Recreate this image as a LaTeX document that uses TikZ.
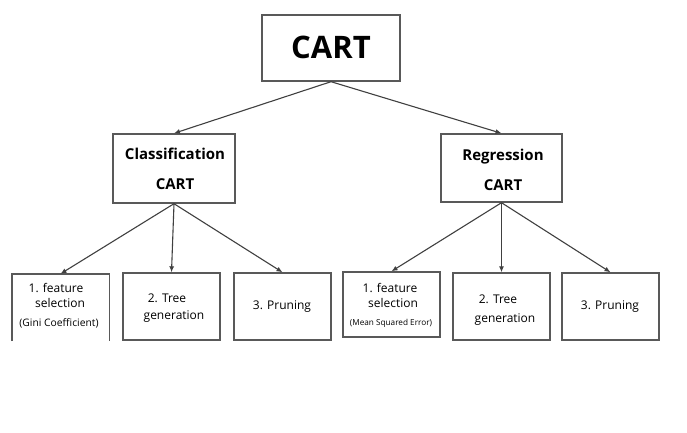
\documentclass[tikz,border=0pt]{standalone}
\usepackage{fontspec}
\setmainfont{Open Sans}
\usetikzlibrary{arrows.meta}
\begin{document}
\begin{tikzpicture}[x=1pt,y=-1pt,
  box/.style={draw=black!65,line width=1.4pt,minimum width=#1,inner sep=0pt,fill=white},
  box/.default=97pt,
  conn/.style={draw=black!75,line width=1.1pt,-{Latex[length=6pt,width=5pt]}},
  txt/.style={inner sep=0pt,text=black},
]
\useasboundingbox (0,0) rectangle (687,433);
% boxes
\node[box=138pt,minimum height=66pt] (cart) at (331,48) {};
\node[box=122pt,minimum height=69pt] (cls) at (174,168.5) {};
\node[box=121pt,minimum height=68pt] (reg) at (501.5,168) {};
\node[draw=none,minimum width=97pt,minimum height=67pt,inner sep=0pt] (c1) at (60.5,307.5) {};
\draw[black!65,line width=1.4pt] (c1.south west) -- (c1.north west) -- (c1.north east) -- (c1.south east);
\node[box,minimum height=67pt] (c2) at (171.5,306.5) {};
\node[box,minimum height=67pt] (c3) at (282.5,306.5) {};
\node[box,minimum height=65pt] (r1) at (391.5,304.5) {};
\node[box,minimum height=67pt] (r2) at (501.5,306.5) {};
\node[box,minimum height=67pt] (r3) at (610.5,306.5) {};
% texts
\node[txt,font=\fontsize{31}{36}\selectfont\bfseries] (tcart) at (331,47) {CART};
\node[txt,font=\fontsize{15}{18}\selectfont\bfseries] (tcls1) at (175,154) {Classification};
\node[txt,font=\fontsize{15}{18}\selectfont\bfseries] (tcls2) at (175,184) {CART};
\node[txt,font=\fontsize{15}{18}\selectfont\bfseries] (treg1) at (503,157) {Regression};
\node[txt,font=\fontsize{15}{18}\selectfont\bfseries] (treg2) at (503,185) {CART};
\node[txt,font=\fontsize{12}{14}\selectfont] (tc1a) at (56,288) {1. feature};
\node[txt,font=\fontsize{12}{14}\selectfont] (tc1b) at (60,303) {selection};
\node[txt,font=\fontsize{10.3}{12}\selectfont] (tc1c) at (59,323) {(Gini Coefficient)};
\node[txt,font=\fontsize{12}{14}\selectfont] (tc2a) at (167,298) {2. Tree};
\node[txt,font=\fontsize{12}{14}\selectfont] (tc2b) at (174,317) {generation};
\node[txt,font=\fontsize{12}{14}\selectfont] (tc3) at (282,307) {3. Pruning};
\node[txt,font=\fontsize{12}{14}\selectfont] (tr1a) at (390,288) {1. feature};
\node[txt,font=\fontsize{12}{14}\selectfont] (tr1b) at (393,303) {selection};
\node[txt,font=\fontsize{8.2}{10}\selectfont] (tr1c) at (391,323) {(Mean Squared Error)};
\node[txt,font=\fontsize{12}{14}\selectfont] (tr2a) at (498,299) {2. Tree};
\node[txt,font=\fontsize{12}{14}\selectfont] (tr2b) at (505,320) {generation};
\node[txt,font=\fontsize{12}{14}\selectfont] (tr3) at (610,307) {3. Pruning};
% connectors
\draw[conn] (cart.south) -- (cls.north);
\draw[conn] (cart.south) -- (reg.north);
\draw[conn] (cls.south) -- (c1.north);
\draw[conn] (cls.south) -- (c2.north);
\draw[conn] (cls.south) -- (c3.north);
\draw[conn] (reg.south) -- (r1.north);
\draw[conn] (reg.south) -- (r2.north);
\draw[conn] (reg.south) -- (r3.north);
\end{tikzpicture}
\end{document}
